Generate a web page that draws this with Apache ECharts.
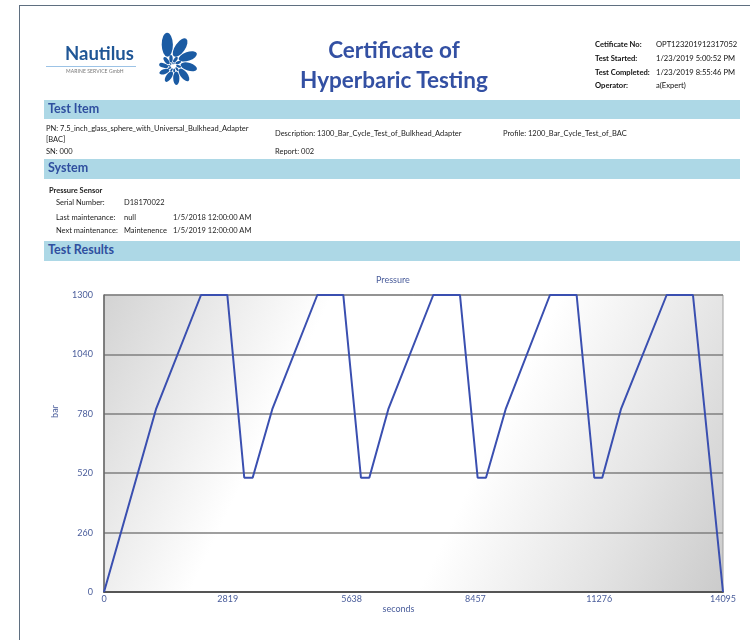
<!DOCTYPE html>
<html>
<head>
<meta charset="utf-8">
<title>Certificate of Hyperbaric Testing</title>
<script src="https://cdn.jsdelivr.net/npm/echarts@6/dist/echarts.min.js"></script>
<style>
  html, body { margin: 0; padding: 0; background: #fff; }
  body { width: 750px; height: 640px; position: relative; overflow: hidden; font-family: Lato, "Open Sans", sans-serif; color: #222; }
  #main { position: absolute; left: 0; top: 0; width: 750px; height: 640px; }
  .t { position: absolute; white-space: nowrap; line-height: 1; }
  .frame-top { position: absolute; left: 20px; top: 5px; width: 730px; height: 0; border-top: 1.5px solid #5f6f80; }
  .frame-left { position: absolute; left: 19px; top: 5px; width: 0; height: 640px; border-left: 1.5px solid #5f6f80; }
  .bar { position: absolute; left: 44px; width: 696px; background: #add8e6; }
  .bar span { position: absolute; left: 4px; top: 3px; font-weight: bold; font-size: 12.5px; color: #2f4f9f; line-height: 1; }
  .small { font-size: 7.5px; color: #222; }
  .info { font-size: 7.6px; color: #111; }
  .title { font-weight: bold; font-size: 22.5px; color: #3350a3; text-align: center; width: 300px; left: 244px; }
</style>
</head>
<body>
<div id="main"></div>

<div class="frame-top"></div>
<div class="frame-left"></div>

<!-- logo -->
<div class="t" style="left:65px;top:44px;font-size:18.5px;font-weight:bold;color:#1f5696;">Nautilus</div>
<div style="position:absolute;left:46px;top:66px;width:90px;height:0;border-top:1px solid #9cc3e6;"></div>
<div class="t" style="left:66px;top:69px;font-size:5px;color:#777;letter-spacing:0.1px;">MARINE SERVICE GmbH</div>
<svg id="logo" style="position:absolute;left:140px;top:28px;" width="64" height="72"></svg>

<!-- title -->
<div class="t title" style="top:39px;">Certificate of</div>
<div class="t title" style="top:69px;">Hyperbaric Testing</div>

<!-- header info -->
<div class="t info" style="left:595px;top:41px;font-weight:bold;">Cetificate No:</div>
<div class="t info" style="left:656px;top:41px;">OPT123201912317052</div>
<div class="t info" style="left:595px;top:55px;font-weight:bold;">Test Started:</div>
<div class="t info" style="left:656px;top:55px;">1/23/2019 5:00:52 PM</div>
<div class="t info" style="left:595px;top:69px;font-weight:bold;">Test Completed:</div>
<div class="t info" style="left:656px;top:69px;">1/23/2019 8:55:46 PM</div>
<div class="t info" style="left:595px;top:82px;font-weight:bold;">Operator:</div>
<div class="t info" style="left:656px;top:82px;">a(Expert)</div>

<!-- Test Item -->
<div class="bar" style="top:100px;height:19px;"><span>Test Item</span></div>
<div class="t small" style="left:46px;top:125px;">PN: 7.5_inch_glass_sphere_with_Universal_Bulkhead_Adapter</div>
<div class="t small" style="left:46px;top:136px;">[BAC]</div>
<div class="t small" style="left:46px;top:148px;">SN: 000</div>
<div class="t small" style="left:275px;top:130px;">Description: 1300_Bar_Cycle_Test_of_Bulkhead_Adapter</div>
<div class="t small" style="left:275px;top:148px;">Report: 002</div>
<div class="t small" style="left:503px;top:130px;">Profile: 1200_Bar_Cycle_Test_of_BAC</div>

<!-- System -->
<div class="bar" style="top:159px;height:20px;"><span>System</span></div>
<div class="t small" style="left:49px;top:187px;font-weight:bold;">Pressure Sensor</div>
<div class="t small" style="left:56px;top:199px;">Serial Number:</div>
<div class="t small" style="left:124px;top:199px;">D18170022</div>
<div class="t small" style="left:56px;top:214px;">Last maintenance:</div>
<div class="t small" style="left:124px;top:214px;">null</div>
<div class="t small" style="left:173px;top:214px;">1/5/2018 12:00:00 AM</div>
<div class="t small" style="left:56px;top:227px;">Next maintenance:</div>
<div class="t small" style="left:124px;top:227px;">Maintenence</div>
<div class="t small" style="left:173px;top:227px;">1/5/2019 12:00:00 AM</div>

<!-- Test Results -->
<div class="bar" style="top:241px;height:20px;"><span>Test Results</span></div>

<script>
// pressure log (seconds, bar)
var timeSec = [0, 1184, 2209, 2808, 3194, 3385, 3832, 4857, 5449, 5851, 6041, 6474, 7498, 8106,
  8508, 8698, 9146, 10155, 10762, 11164, 11346, 11771, 12812, 13411, 14095];
var pressureBar = [0, 800, 1300, 1300, 500, 500, 800, 1300, 1300, 500, 500, 800, 1300, 1300,
  500, 500, 800, 1300, 1300, 500, 500, 800, 1300, 1300, 0];

// tick labels
var xTicks = [0, 2819, 5638, 8457, 11276, 14095];
var yTicks = [0, 260, 520, 780, 1040, 1300];

var seriesData = [];
for (var i = 0; i < timeSec.length; i++) {
  seriesData.push([timeSec[i], pressureBar[i]]);
}

// simple shell logo
var logo = document.getElementById('logo');
var svg = '';
var cx = 33, cy = 38;
for (var k = 0; k < 22; k++) {
  var s = Math.pow(0.89, k);
  var ang = -105 + k * 36;
  var rad = ang * Math.PI / 180;
  var d = 21 * s + 1;
  var px = cx + d * Math.cos(rad);
  var py = cy + d * Math.sin(rad);
  svg += '<ellipse cx="' + px.toFixed(1) + '" cy="' + py.toFixed(1) + '" rx="' + (12 * s).toFixed(1) +
    '" ry="' + (5.6 * s).toFixed(1) + '" fill="#1b5ba3" transform="rotate(' + (ang + 14) + ' ' +
    px.toFixed(1) + ' ' + py.toFixed(1) + ')"/>';
}
logo.innerHTML = svg;

var labelColor = '#4a5d9b';

var myChart = echarts.init(document.getElementById('main'));

var option = {
  backgroundColor: 'transparent',
  animation: false,
  title: {
    text: 'Pressure',
    left: 371,
    top: 271,
    textStyle: { fontSize: 9, fontWeight: 'normal', color: labelColor, fontFamily: 'Lato' }
  },
  grid: {
    left: 104,
    right: 27,
    top: 295,
    bottom: 48,
    show: true,
    borderColor: '#a0a0a0',
    borderWidth: 1,
    // grey corners, white diagonal band
    backgroundColor: new echarts.graphic.LinearGradient(104, 295, 723, 592, [
      { offset: 0, color: '#d3d3d3' },
      { offset: 0.3, color: '#ffffff' },
      { offset: 0.6, color: '#ffffff' },
      { offset: 0.82, color: '#e4e4e4' },
      { offset: 1, color: '#cbcbcb' }
    ], true)
  },
  xAxis: {
    type: 'value',
    min: xTicks[0],
    max: xTicks[xTicks.length - 1],
    interval: xTicks[1] - xTicks[0],
    name: 'seconds',
    nameLocation: 'middle',
    nameGap: 9,
    nameTextStyle: { fontSize: 9, color: labelColor, fontFamily: 'Lato', padding: [0, 30, 0, 0] },
    axisLine: { lineStyle: { color: '#555', width: 2 } },
    axisTick: { show: false },
    axisLabel: {
      fontSize: 9, color: labelColor, fontFamily: 'Lato', margin: 3,
      formatter: function (v) { return String(v); }
    },
    splitLine: { show: false }
  },
  yAxis: {
    type: 'value',
    min: yTicks[0],
    max: yTicks[yTicks.length - 1],
    interval: yTicks[1] - yTicks[0],
    name: 'bar',
    nameLocation: 'middle',
    nameGap: 44,
    nameRotate: 90,
    nameTextStyle: { fontSize: 9, color: labelColor, fontFamily: 'Lato', padding: [0, 0, 0, 64] },
    axisLine: { show: true, lineStyle: { color: '#666', width: 1.5 } },
    axisTick: { show: false },
    axisLabel: {
      fontSize: 9, color: labelColor, fontFamily: 'Lato', margin: 11,
      formatter: function (v) { return String(v); }
    },
    splitLine: { lineStyle: { color: '#7f7f7f', width: 1.5 } }
  },
  series: [{
    type: 'line',
    data: seriesData,
    showSymbol: false,
    lineStyle: { color: '#3a4fb0', width: 2 },
    z: 5
  }]
};

myChart.setOption(option);
</script>
</body>
</html>
